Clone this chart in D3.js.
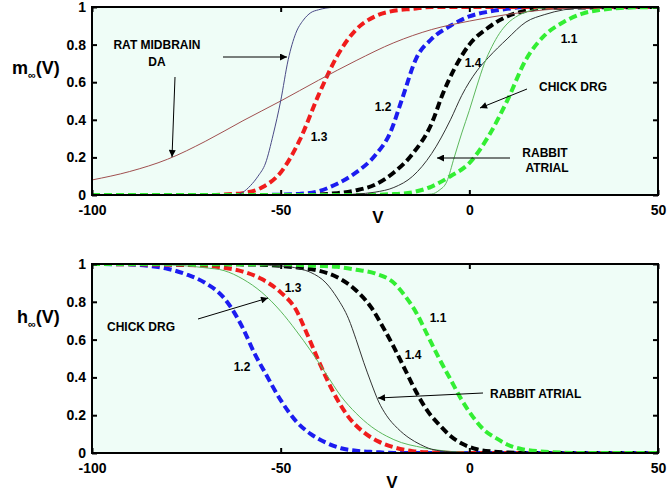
<!DOCTYPE html>
<html>
<head>
<meta charset="utf-8">
<script src="https://cdn.jsdelivr.net/npm/d3@7"></script>
<style>
  body { margin: 0; background: #fff; }
  text { font-family: "Liberation Sans", Arial, sans-serif; font-weight: bold; }
</style>
</head>
<body>
<svg width="667" height="493"></svg>
<script>
// axis ticks
var xTicks = [-100, -50, 0, 50];
var yTicks = [0, 0.2, 0.4, 0.6, 0.8, 1];

// ---- m_inf(V) ----
var m11V = [-100, -30, -20, -15, -10, -5, 0, 5, 10, 15, 20, 25, 30, 35, 40, 50];
var m11  = [0, 0, 0.005, 0.015, 0.045, 0.1, 0.17, 0.31, 0.5, 0.72, 0.85, 0.92, 0.965, 0.985, 0.995, 1];
var m12V = [-100, -55, -50, -45, -40, -35, -30, -25, -21, -18, -14, -10, -5, 0, 5, 10, 15, 50];
var m12  = [0, 0, 0.002, 0.006, 0.02, 0.06, 0.12, 0.21, 0.33, 0.5, 0.73, 0.83, 0.9, 0.95, 0.975, 0.99, 1, 1];
var m13V = [-100, -70, -65, -60, -55, -50, -45, -40, -35, -30, -25, -20, -15, -10, 50];
var m13  = [0, 0, 0.003, 0.01, 0.04, 0.12, 0.29, 0.53, 0.74, 0.88, 0.95, 0.98, 0.99, 1, 1];
var m14V = [-100, -45, -35, -30, -25, -20, -15, -10, -7, -4, 0, 5, 10, 15, 20, 50];
var m14  = [0, 0, 0.01, 0.025, 0.055, 0.12, 0.22, 0.38, 0.54, 0.67, 0.8, 0.89, 0.95, 0.98, 0.995, 1];
var ratSlowV = [-100, -90, -80, -70, -60, -50, -40, -30, -20, -10, 0, 10, 20, 30, 50];
var ratSlow  = [0.08, 0.125, 0.19, 0.285, 0.395, 0.5, 0.61, 0.715, 0.81, 0.88, 0.925, 0.96, 0.985, 0.995, 1];
var ratFastV = [-100, -62, -60, -58, -56, -54, -52, -50, -48, -46, -44, -42, -40, -36, -30, 50];
var ratFast  = [0, 0, 0.015, 0.05, 0.1, 0.17, 0.32, 0.5, 0.72, 0.86, 0.93, 0.97, 0.985, 0.998, 1, 1];
var rabbitMV = [-100, -35, -30, -25, -20, -15, -10, -5, -2, 2, 5, 10, 15, 20, 25, 30, 50];
var rabbitM  = [0, 0, 0.005, 0.015, 0.04, 0.1, 0.22, 0.4, 0.53, 0.66, 0.73, 0.83, 0.92, 0.96, 0.985, 0.995, 1];
var chickMV = [-100, -15, -10, -8, -6, -4, -2, 0, 2, 4, 6, 8, 10, 13, 16, 20, 30, 50];
var chickM  = [0, 0, 0.005, 0.025, 0.07, 0.2, 0.33, 0.45, 0.58, 0.7, 0.79, 0.86, 0.91, 0.955, 0.98, 0.995, 1, 1];

// ---- h_inf(V) ----
var h11V = [-100, -50, -40, -35, -30, -25, -20, -17, -14, -11, -8, -5, -2, 1, 4, 7, 10, 14, 20, 25, 30, 50];
var h11  = [1, 0.998, 0.99, 0.985, 0.97, 0.95, 0.9, 0.83, 0.74, 0.62, 0.5, 0.39, 0.28, 0.19, 0.12, 0.08, 0.045, 0.02, 0.007, 0.002, 0, 0];
var h12V = [-100, -90, -85, -80, -75, -70, -65, -60, -57, -54, -50, -46, -42, -38, -34, -30, -25, -20, 50];
var h12  = [1, 0.998, 0.99, 0.975, 0.945, 0.9, 0.82, 0.66, 0.53, 0.42, 0.28, 0.17, 0.1, 0.055, 0.025, 0.012, 0.005, 0, 0];
var h13V = [-100, -75, -65, -60, -55, -50, -46, -43, -40, -36, -32, -28, -24, -20, -15, -10, 0, 50];
var h13  = [1, 0.995, 0.98, 0.96, 0.92, 0.85, 0.76, 0.63, 0.49, 0.32, 0.19, 0.11, 0.06, 0.03, 0.01, 0.003, 0, 0];
var h14V = [-100, -60, -50, -45, -40, -35, -30, -26, -23, -20, -17, -14, -11, -8, -5, -2, 2, 6, 10, 15, 50];
var h14  = [1, 0.998, 0.99, 0.98, 0.965, 0.93, 0.86, 0.77, 0.67, 0.56, 0.44, 0.32, 0.22, 0.15, 0.09, 0.05, 0.02, 0.008, 0.003, 0, 0];
var chickHV = [-100, -85, -75, -70, -65, -60, -55, -50, -46, -42, -38, -34, -30, -26, -22, -18, -14, -10, -5, 0, 10, 50];
var chickH  = [1, 0.998, 0.99, 0.98, 0.965, 0.92, 0.85, 0.75, 0.65, 0.54, 0.42, 0.3, 0.21, 0.14, 0.09, 0.055, 0.035, 0.02, 0.008, 0.003, 0, 0];
var rabbitHV = [-100, -60, -50, -45, -42, -38, -35, -32, -30, -28, -26, -24, -22, -19, -16, -13, -10, -5, 0, 50];
var rabbitH  = [1, 0.998, 0.99, 0.975, 0.955, 0.9, 0.82, 0.71, 0.6, 0.48, 0.37, 0.27, 0.2, 0.13, 0.08, 0.045, 0.02, 0.006, 0.002, 0];

var svg = d3.select("svg");
var left = 92, right = 658;

var defs = svg.append("defs");
defs.append("marker")
  .attr("id", "head")
  .attr("viewBox", "0 0 10 10")
  .attr("refX", 10).attr("refY", 5)
  .attr("markerWidth", 9).attr("markerHeight", 7)
  .attr("markerUnits", "userSpaceOnUse")
  .attr("orient", "auto")
  .append("path").attr("d", "M0,0L10,5L0,10z").attr("fill", "#000");

function zip(vs, ys) {
  return vs.map(function(v, i) { return [v, ys[i]]; });
}

function panel(id, top, bottom, series, yName, yLabelPos, vPos, notes, arrows) {
  var x = d3.scaleLinear().domain([-100, 50]).range([left, right]);
  var y = d3.scaleLinear().domain([0, 1]).range([bottom, top]);
  var g = svg.append("g");

  g.append("rect")
    .attr("x", left).attr("y", top)
    .attr("width", right - left).attr("height", bottom - top)
    .attr("fill", "#effdf7");

  defs.append("clipPath").attr("id", "clip" + id)
    .append("rect")
    .attr("x", left).attr("y", top - 1)
    .attr("width", right - left).attr("height", bottom - top + 2);

  var line = d3.line()
    .x(function(d) { return x(d[0]); })
    .y(function(d) { return y(d[1]); })
    .curve(d3.curveMonotoneX);

  g.append("g").attr("clip-path", "url(#clip" + id + ")")
    .selectAll("path")
    .data(series)
    .enter()
    .append("path")
    .attr("d", function(s) { return line(zip(s.v, s.y)); })
    .attr("fill", "none")
    .attr("stroke", function(s) { return s.color; })
    .attr("stroke-width", function(s) { return s.dash ? 4 : 1; })
    .attr("stroke-dasharray", function(s) { return s.dash ? "8,4" : null; });

  // axes, matlab style box with inward ticks
  var ax = function(a) {
    a.selectAll("text").attr("fill", "#000").style("font-size", "14px").style("font-weight", "bold")
      .style("font-family", "'Liberation Sans', Arial, sans-serif");
    a.selectAll("line").attr("stroke", "#000").attr("stroke-width", 2);
    a.select(".domain").remove();
  };
  var plain = function(d) { return String(d); };
  g.append("g").attr("transform", "translate(0," + bottom + ")")
    .call(d3.axisBottom(x).tickValues(xTicks).tickSizeInner(-5).tickSizeOuter(0).tickPadding(10).tickFormat(plain))
    .call(ax);
  g.append("g").attr("transform", "translate(0," + top + ")")
    .call(d3.axisTop(x).tickValues(xTicks).tickSizeInner(-5).tickSizeOuter(0).tickFormat(""))
    .call(ax);
  g.append("g").attr("transform", "translate(" + left + ",0)")
    .call(d3.axisLeft(y).tickValues(yTicks).tickSizeInner(-5).tickSizeOuter(0).tickPadding(6).tickFormat(plain))
    .call(ax);
  g.append("g").attr("transform", "translate(" + right + ",0)")
    .call(d3.axisRight(y).tickValues(yTicks).tickSizeInner(-5).tickSizeOuter(0).tickFormat(""))
    .call(ax);

  g.append("rect")
    .attr("x", left).attr("y", top)
    .attr("width", right - left).attr("height", bottom - top)
    .attr("fill", "none").attr("stroke", "#000").attr("stroke-width", 2);

  // y label with subscript infinity
  var yl = g.append("text").attr("x", yLabelPos[0]).attr("y", yLabelPos[1]).style("font-size", "18px");
  yl.append("tspan").text(yName);
  yl.append("tspan").attr("dy", 5).style("font-size", "11px").text("\u221e");
  yl.append("tspan").attr("dy", -5).text("(V)");

  g.append("text").attr("x", vPos[0]).attr("y", vPos[1])
    .attr("text-anchor", "middle").style("font-size", "17px").text("V");

  g.selectAll(".note").data(notes).enter().append("text")
    .attr("x", function(d) { return d[1]; })
    .attr("y", function(d) { return d[2]; })
    .attr("text-anchor", function(d) { return d[3] || "middle"; })
    .style("font-size", "12px")
    .text(function(d) { return d[0]; });

  g.selectAll(".arrow").data(arrows).enter().append("line")
    .attr("x1", function(d) { return d[0]; }).attr("y1", function(d) { return d[1]; })
    .attr("x2", function(d) { return d[2]; }).attr("y2", function(d) { return d[3]; })
    .attr("stroke", "#000").attr("stroke-width", 1)
    .attr("marker-end", "url(#head)");
}

panel("m", 7, 195, [
  { v: m12V, y: m12, color: "#1c1cf0", dash: true },
  { v: m14V, y: m14, color: "#000000", dash: true },
  { v: m13V, y: m13, color: "#f01c1c", dash: true },
  { v: m11V, y: m11, color: "#33ee33", dash: true },
  { v: ratSlowV, y: ratSlow, color: "#a05050", dash: false },
  { v: ratFastV, y: ratFast, color: "#4a4a86", dash: false },
  { v: rabbitMV, y: rabbitM, color: "#333333", dash: false },
  { v: chickMV, y: chickM, color: "#5cb85c", dash: false }
], "m", [12, 74], [378, 223], [
  ["RAT MIDBRAIN", 157, 49], ["DA", 157, 66],
  ["1.3", 319, 141], ["1.2", 383, 111], ["1.4", 473, 67], ["1.1", 569, 43],
  ["CHICK DRG", 573, 91], ["RABBIT", 545, 157], ["ATRIAL", 547, 172]
], [
  [223, 57, 287, 57], [175, 77, 172, 157], [527, 89, 480, 108], [510, 158, 437, 158]
]);

panel("h", 264, 453, [
  { v: h12V, y: h12, color: "#1c1cf0", dash: true },
  { v: h13V, y: h13, color: "#f01c1c", dash: true },
  { v: h14V, y: h14, color: "#000000", dash: true },
  { v: h11V, y: h11, color: "#33ee33", dash: true },
  { v: chickHV, y: chickH, color: "#5cb85c", dash: false },
  { v: rabbitHV, y: rabbitH, color: "#333333", dash: false }
], "h", [17, 323], [392, 488], [
  ["CHICK DRG", 141, 331], ["1.3", 293, 292], ["1.2", 242, 371],
  ["1.1", 438, 322], ["1.4", 413, 359], ["RABBIT ATRIAL", 490, 398, "start"]
], [
  [198, 319, 268, 298], [483, 393, 378, 398]
]);
</script>
</body>
</html>
